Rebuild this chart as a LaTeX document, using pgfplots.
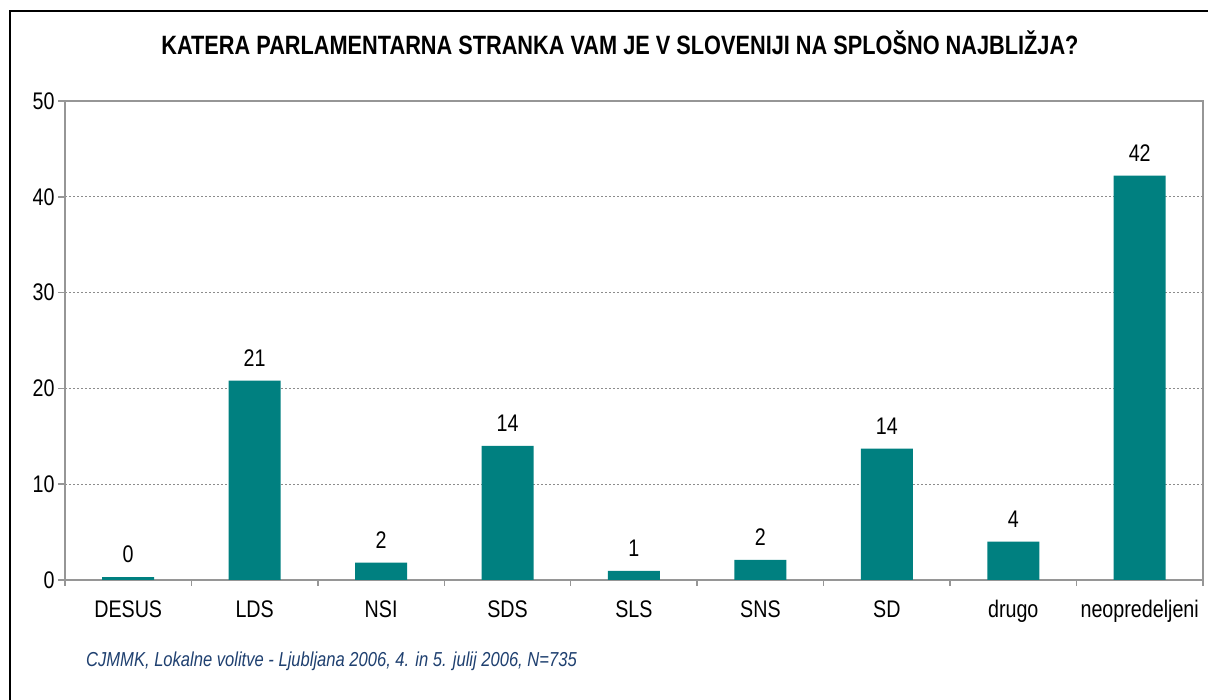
\documentclass[border=0pt]{standalone}
\usepackage{fontspec}
\setmainfont{Liberation Sans}[FakeStretch=0.82]
\usepackage{pgfplots}
\pgfplotsset{compat=1.18}
\definecolor{barteal}{RGB}{0,128,128}
\definecolor{framegray}{RGB}{150,150,150}
\definecolor{gridgray}{RGB}{140,140,140}
\definecolor{notenavy}{RGB}{31,64,112}
\begin{document}
\begin{tikzpicture}[x=1pt,y=1pt]
\useasboundingbox (0,0) rectangle (1208,700);
\fill[white] (0,0) rectangle (1208,700);
\draw[black, line width=2pt] (10,-2) -- (10,689) -- (1210,689);
\begin{axis}[
  at={(65pt,120pt)}, anchor=south west,
  width=1138pt, height=479pt, scale only axis,
  xmin=-0.5, xmax=8.5, ymin=0, ymax=50,
  ytick={0,10,...,50},
  xtick={0,...,8},
  xticklabels={DESUS,LDS,NSI,SDS,SLS,SNS,SD,drugo,neopredeljeni},
  minor xtick={-0.5,0.5,...,8.5},
  xtick pos=left, ytick pos=left,
  major x tick style={draw=none},
  tick align=outside,
  major tick length=7pt, minor tick length=6pt,
  tick style={framegray, line width=1.5pt},
  axis line style={framegray, line width=2pt},
  ymajorgrids,
  grid style={gridgray, line width=0.8pt, dash pattern=on 2pt off 2pt},
  ticklabel style={font=\fontsize{24}{28}\selectfont},
  xticklabel style={yshift=-10pt},
  /pgf/number format/assume math mode=true,
  ybar, bar width=52pt,
  nodes near coords={\pgfmathprintnumber[fixed,precision=0,assume math mode=true]{\pgfplotspointmeta}},
  nodes near coords style={font=\fontsize{24}{28}\selectfont, yshift=11pt, text=black},
]
\addplot[fill=barteal, draw=none] coordinates {
  (0,0.3) (1,20.8) (2,1.8) (3,14.0) (4,0.94) (5,2.1) (6,13.7) (7,4.0) (8,42.2)
};
\end{axis}
\node[anchor=base, font=\bfseries\fontsize{26.5}{30}\selectfont] at (620,645)
  {KATERA PARLAMENTARNA STRANKA VAM JE V SLOVENIJI NA SPLOŠNO NAJBLIŽJA?};
\node[anchor=base west, inner sep=0pt, font=\itshape\fontsize{20.2}{24}\selectfont, text=notenavy] at (86,33)
  {CJMMK, Lokalne volitve - Ljubljana 2006, 4. in 5. julij 2006, N=735};
\end{tikzpicture}
\end{document}
